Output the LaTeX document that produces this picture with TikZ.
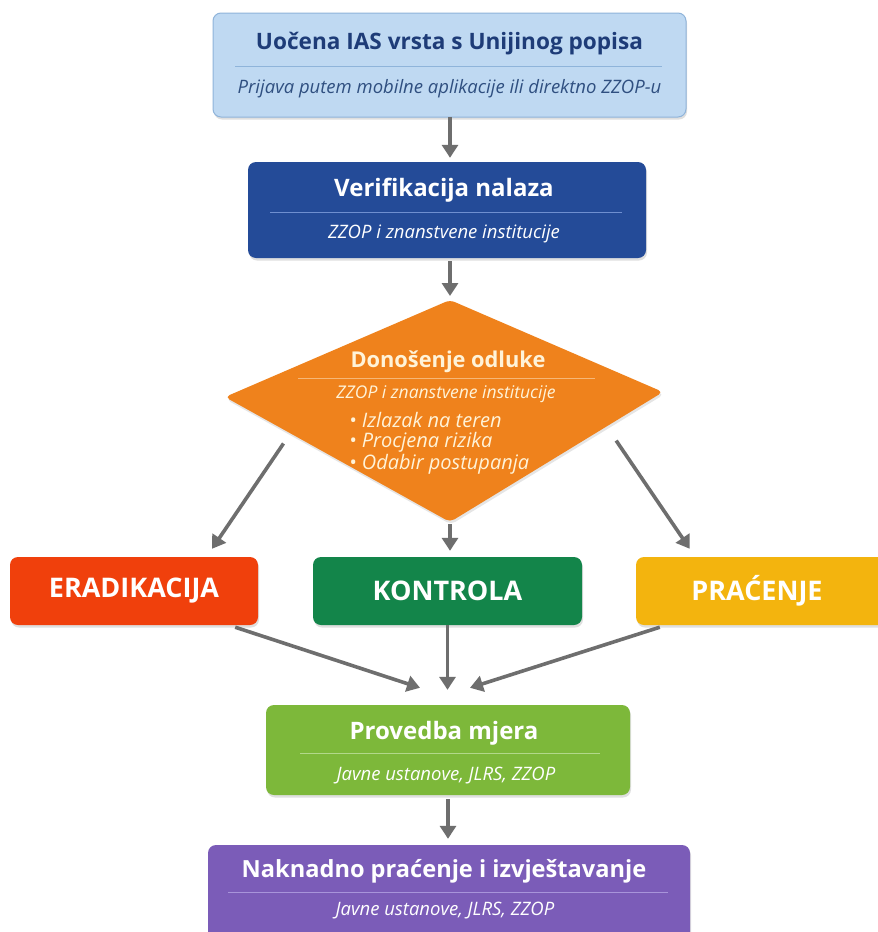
\documentclass[tikz,border=0pt]{standalone}
\usepackage{fontspec}
\setmainfont{Open Sans}
\usetikzlibrary{arrows.meta,calc,shadows}
\definecolor{obsfill}{HTML}{BFD9F2}
\definecolor{obsedge}{HTML}{8FB4DA}
\definecolor{obstext}{HTML}{1E3C78}
\definecolor{obssub}{HTML}{2F4F80}
\definecolor{verfill}{HTML}{244B98}
\definecolor{verline}{HTML}{6F8FD0}
\definecolor{decfill}{HTML}{EF821C}
\definecolor{decline}{HTML}{F6B777}
\definecolor{deccream}{HTML}{FFF3D8}
\definecolor{eradfill}{HTML}{F0400C}
\definecolor{konfill}{HTML}{13854A}
\definecolor{prafill}{HTML}{F3B40E}
\definecolor{provfill}{HTML}{7DB83A}
\definecolor{provline}{HTML}{B2D88A}
\definecolor{nakfill}{HTML}{7B5CB8}
\definecolor{nakline}{HTML}{A894DA}
\definecolor{arrgray}{HTML}{6E6E6E}
\begin{document}
\begin{tikzpicture}[x=1pt,y=-1pt,
  arr/.style={line width=3.6pt, draw=arrgray, -{Triangle[length=13pt,width=16pt]}},
  box/.style={rounded corners=8pt, inner sep=0pt, drop shadow={opacity=0.25,shadow xshift=1pt,shadow yshift=-2.5pt}},
  ttl/.style={font=\fontsize{24}{28}\selectfont\bfseries, inner sep=0pt},
  sub/.style={font=\fontsize{18.5}{22}\selectfont\itshape, inner sep=0pt},
  act/.style={font=\fontsize{27}{30}\selectfont\bfseries, text=white, inner sep=0pt},
  sep/.style={line width=1pt}]
\path[use as bounding box] (0,0) rectangle (878,932);
\clip (0,0) rectangle (878,932);
\fill[white] (0,0) rectangle (878,932);

% Box 1
\node[box, fill=obsfill, draw=obsedge, line width=1pt, minimum width=473pt, minimum height=104pt] (obs) at (449.5,65) {};
\node[ttl, text=obstext, font=\fontsize{22.6}{26}\selectfont\bfseries] (obsT) at (449.5,44) {Uočena IAS vrsta s Unijinog popisa};
\draw[sep, draw=obsedge] (235,66) -- (662,66);
\node[sub, text=obssub] (obsS) at (449.5,89) {Prijava putem mobilne aplikacije ili direktno ZZOP-u};

% Box 2
\node[box, fill=verfill, minimum width=398pt, minimum height=96pt] (ver) at (447,210) {};
\node[ttl, text=white] (verT) at (444,190) {Verifikacija nalaza};
\draw[sep, draw=verline] (270,212) -- (622,212);
\node[sub, text=white] (verS) at (444,234) {ZZOP i znanstvene institucije};

% Diamond
\coordinate (dT) at (450,300);
\coordinate (dR) at (663,392);
\coordinate (dB) at (450,522);
\coordinate (dL) at (225,397);
\fill[decfill, rounded corners=5pt, drop shadow={opacity=0.2,shadow xshift=1pt,shadow yshift=-2.5pt}] (dT) -- (dR) -- (dB) -- (dL) -- cycle;
\node[ttl, text=deccream, font=\fontsize{21.8}{25}\selectfont\bfseries] (decT) at (448,362) {Donošenje odluke};
\draw[sep, draw=decline] (298,378) -- (595,378);
\node[sub, text=deccream, font=\fontsize{17.5}{20}\selectfont\itshape] (decS) at (446,394) {ZZOP i znanstvene institucije};
\node[sub, text=deccream, anchor=west, font=\fontsize{20}{23}\selectfont\itshape] (b1) at (349,420) {•\ Izlazak na teren};
\node[sub, text=deccream, anchor=west, font=\fontsize{20}{23}\selectfont\itshape] (b2) at (349,442) {•\ Procjena rizika};
\node[sub, text=deccream, anchor=west, font=\fontsize{20}{23}\selectfont\itshape] (b3) at (349,464) {•\ Odabir postupanja};

% Action boxes
\node[box, fill=eradfill, minimum width=248pt, minimum height=68pt] (erad) at (134,591) {};
\node[act] (eradT) at (134,591) {ERADIKACIJA};
\node[box, fill=konfill, minimum width=269pt, minimum height=68pt] (kon) at (447.5,591) {};
\node[act] (konT) at (447.5,591) {KONTROLA};
\node[box, fill=prafill, minimum width=270pt, minimum height=68pt] (pra) at (771,591) {};
\node[act] (praT) at (757,591) {PRAĆENJE};

% Provedba
\node[box, fill=provfill, minimum width=364pt, minimum height=90pt] (prov) at (448,750) {};
\node[ttl, text=white] (provT) at (444,733) {Provedba mjera};
\draw[sep, draw=provline] (300,753) -- (600,753);
\node[sub, text=white] (provS) at (446,776) {Javne ustanove, JLRS, ZZOP};

% Naknadno
\node[box, fill=nakfill, minimum width=482pt, minimum height=100pt] (nak) at (449,895) {};
\node[ttl, text=white, font=\fontsize{23.6}{27}\selectfont\bfseries] (nakT) at (444,871) {Naknadno praćenje i izvještavanje};
\draw[sep, draw=nakline] (228,892) -- (668,892);
\node[sub, text=white] (nakS) at (445,911) {Javne ustanove, JLRS, ZZOP};

% Arrows
\draw[arr] ($(ver.north)+(3,-45)$) -- ($(ver.north)+(3,-4)$);
\draw[arr] ($(ver.south)+(3,3)$) -- ($(dT)+(0,-4)$);
\draw[arr] ($(dL)!0.26!(dB)+(0,14)$) -- ($(erad.north)+(78,-8)$);
\draw[arr] ($(dB)+(0,2)$) -- ($(dB |- kon.north)+(0,-6)$);
\draw[arr] ($(dR)!0.22!(dB)+(0,20)$) -- ($(pra.north west)+(54,-8)$);
\draw[arr] ($(erad.south east)+(-23,2)$) -- ($(prov.north)+(-28,-17)$);
\draw[arr] (kon.south) -- ($(kon.south |- prov.north)+(0,-15)$);
\draw[arr] ($(pra.south west)+(24,2)$) -- ($(prov.north)+(22,-17)$);
\draw[arr] ($(prov.south)+(0,4)$) -- ($(prov.south |- nak.north)+(0,-6)$);
\end{tikzpicture}
\end{document}
